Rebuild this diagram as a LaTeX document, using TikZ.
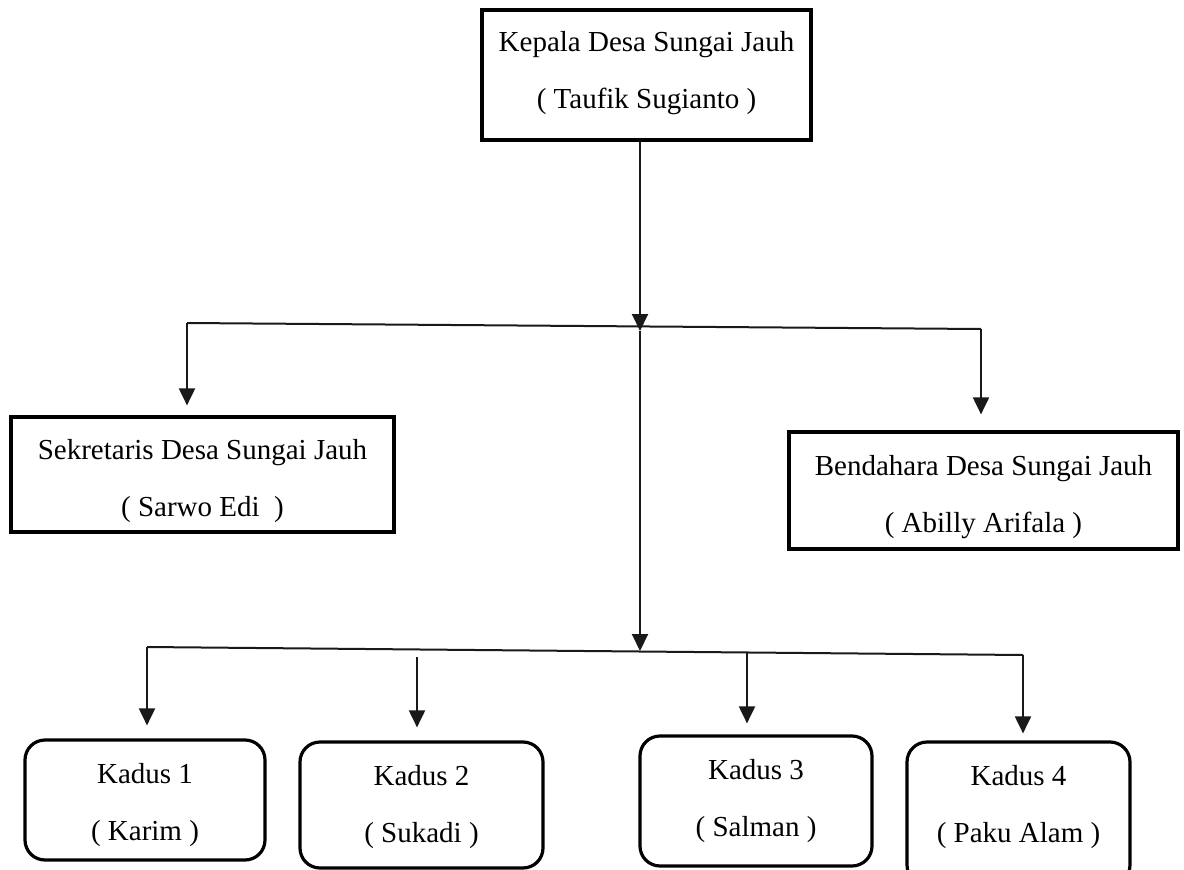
\documentclass[tikz,border=0pt]{standalone}
\usepackage{fontspec}
\setmainfont{Liberation Serif}
\usetikzlibrary{arrows.meta}
\begin{document}
\begin{tikzpicture}[x=1pt,y=-1pt,
  box/.style={draw=black,line width=3.2pt,inner sep=0pt},
  rbox/.style={box,rounded corners=20pt},
  txt/.style={align=center,inner sep=0pt,font=\fontsize{29}{57}\selectfont},
  conn/.style={draw=black!90,line width=2pt},
  arr/.style={conn,-{Triangle[width=16pt,length=17pt]}}]
\useasboundingbox (0,0) rectangle (1184,870);
% boxes
\node[box,minimum width=329pt,minimum height=130pt] (top) at (646.5,75) {};
\node[txt] (topt) at ([yshift=2pt]top.center) {Kepala Desa Sungai Jauh\\( Taufik Sugianto )};
\node[box,minimum width=383pt,minimum height=115pt] (sek) at (202.5,474.5) {};
\node[txt] (sekt) at ([yshift=-7pt]sek.center) {Sekretaris Desa Sungai Jauh\\( Sarwo Edi~ )};
\node[box,minimum width=389pt,minimum height=117pt] (ben) at (983.5,490.5) {};
\node[txt] (bent) at ([yshift=-7pt]ben.center) {Bendahara Desa Sungai Jauh\\( Abilly Arifala )};
\node[rbox,minimum width=240pt,minimum height=120pt] (k1) at (145,800) {};
\node[txt] (k1t) at ([yshift=-5pt]k1.center) {Kadus 1\\( Karim )};
\node[rbox,minimum width=243pt,minimum height=126pt] (k2) at (421.5,805) {};
\node[txt] (k2t) at ([yshift=-2pt]k2.center) {Kadus 2\\( Sukadi )};
\node[rbox,minimum width=232pt,minimum height=130pt] (k3) at (756,801) {};
\node[txt] (k3t) at ([yshift=0pt]k3.center) {Kadus 3\\( Salman )};
\node[rbox,minimum width=223pt,minimum height=143pt] (k4) at (1018.5,813.5) {};
\node[txt] (k4t) at ([yshift=6pt]k4.center) {Kadus 4\\( Paku Alam )};
% junction coordinates
\coordinate (u1) at (187,323);
\coordinate (u2) at (981,329);
\coordinate (uj) at (640,331);
\coordinate (l1) at (147,647);
\coordinate (l4) at (1023,655);
\coordinate (lj) at (640,651);
\coordinate (k2s) at (417,657);
\coordinate (k3s) at (747,652);
% connectors
\draw[conn] (u1) -- (u2);
\draw[arr] (top.south -| uj) -- (uj);
\draw[arr] (uj) -- (lj);
\draw[arr,shorten >=10pt] (u1) -- (u1 |- sek.north);
\draw[arr,shorten >=16pt] (u2) -- (u2 |- ben.north);
\draw[conn] (l1) -- (l4);
\draw[arr,shorten >=13pt] (l1) -- (l1 |- k1.north);
\draw[arr,shorten >=13pt] (k2s) -- (k2s |- k2.north);
\draw[arr,shorten >=11pt] (k3s) -- (k3s |- k3.north);
\draw[arr,shorten >=7pt] (l4) -- (l4 |- k4.north);
\end{tikzpicture}
\end{document}
